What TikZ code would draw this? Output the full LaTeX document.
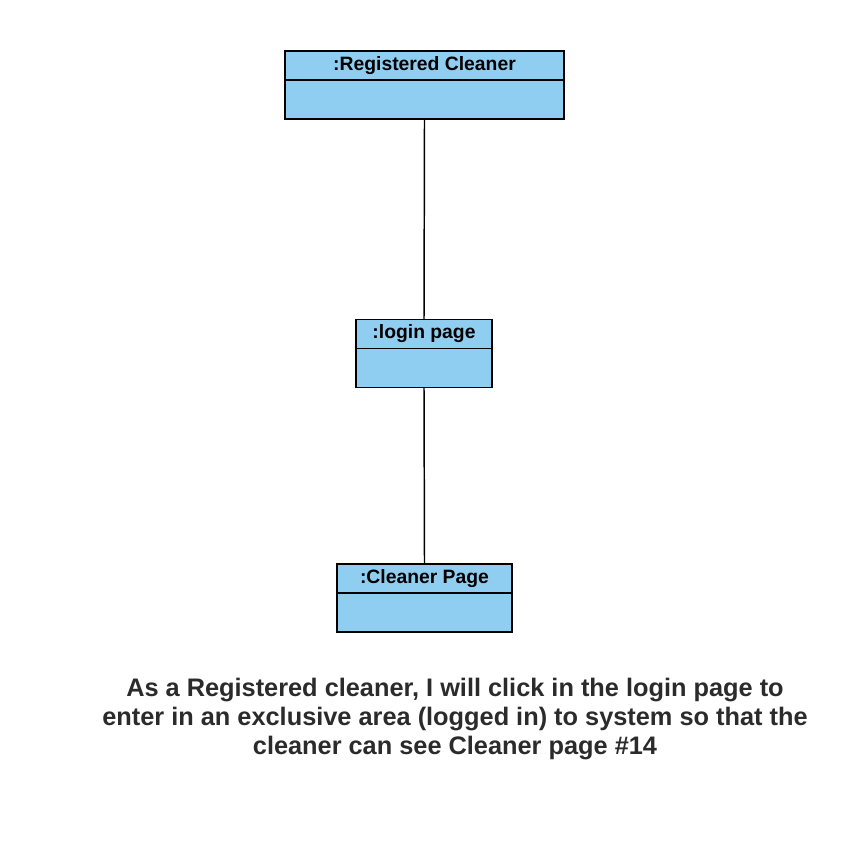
\documentclass[tikz,border=0pt]{standalone}
\usepackage{fontspec}
\setmainfont{Liberation Sans}
\usetikzlibrary{positioning}
\definecolor{objfill}{HTML}{90CEF1}
\definecolor{ink}{HTML}{2B2B2B}

\begin{document}
\begin{tikzpicture}[
  x=0.75pt, y=-0.75pt, line join=miter,
  objhead/.style={draw=black, fill=objfill, line width=1.3pt, inner sep=0pt, outer sep=0pt,
                  font=\bfseries\fontsize{14.5}{16}\selectfont, minimum height=21.75pt},
  objbody/.style={draw=black, fill=objfill, line width=1.3pt, inner sep=0pt, outer sep=0pt,
                  minimum height=29.25pt},
  link/.style={black, line width=1.1pt}]

\useasboundingbox (0,0) rectangle (866,860);

% ---- the three objects -----------------------------------------------
\node[objhead, minimum width=209.25pt] (cleaner) at (424.5,65.5) {:Registered Cleaner};
\node[objbody, minimum width=209.25pt, below=0pt of cleaner] (cleanerbody) {};

\node[objhead, minimum width=102pt] (login) at (424,334) {:login page};
\node[objbody, minimum width=102pt, below=0pt of login] (loginbody) {};

\node[objhead, minimum width=131.25pt] (page) at (424.5,578.5) {:Cleaner Page};
\node[objbody, minimum width=131.25pt, below=0pt of page] (pagebody) {};

% ---- links -----------------------------------------------------------
\draw[link] (cleanerbody.south) -- (login.north);
\draw[link] (loginbody.south) -- (page.north);

% ---- story -----------------------------------------------------------
\node[ink, align=center, font=\bfseries\fontsize{19}{22}\selectfont] (story) at (455,719)
  {As a Registered cleaner, I will click in the login page to\\
   enter in an exclusive area (logged in) to system so that the\\
   cleaner can see Cleaner page \#14};

\end{tikzpicture}
\end{document}
